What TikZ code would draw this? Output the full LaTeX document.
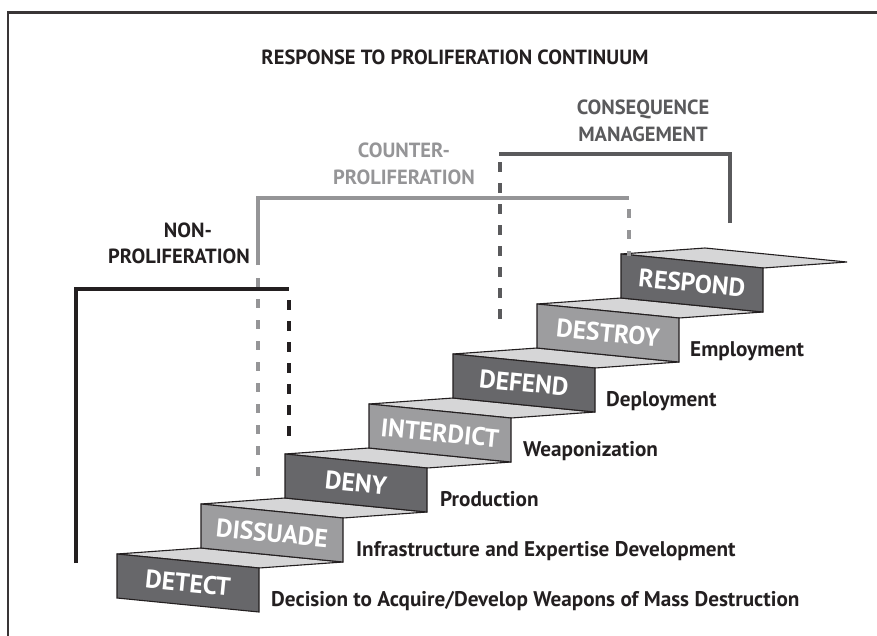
\documentclass[tikz,border=0pt]{standalone}
\usepackage{fontspec}
\setmainfont{PT Sans}
\definecolor{inkc}{HTML}{231F20}
\definecolor{darkc}{HTML}{67676A}
\definecolor{lightc}{HTML}{9D9D9F}
\definecolor{treadc}{HTML}{D6D6D7}
\definecolor{cpc}{HTML}{959597}
\definecolor{cmc}{HTML}{5A5A5C}
\newcommand\stair[5]{%
  \draw[stairline, fill=treadc] (#2,#3) -- ++(84,-6) -- ++(142,14) -- ++(-84,6) -- cycle;
  \draw[stairline, fill=#4] (#2,#3) -- ++(142,14) -- ++(0,44) -- ++(-142,-14) -- cycle;
  \node[risertext] (#1) at (#2+71,#3+29) {#5};
}
\begin{document}
\begin{tikzpicture}[x=1pt,y=-1pt,
  stairline/.style={draw=inkc, line width=1.1pt, line join=miter},
  risertext/.style={text=white, font=\bfseries\fontsize{25.5}{25.5}\selectfont, rotate=-5.63, inner sep=0pt},
  desc/.style={text=inkc, font=\bfseries\fontsize{21.2}{21.5}\selectfont, inner sep=0pt, anchor=base west},
  head/.style={font=\bfseries\fontsize{20.5}{26.5}\selectfont, align=center, inner sep=0pt},
  brk/.style={line width=3.5pt},
  dsh/.style={line width=3.5pt, dash pattern=on 10pt off 11pt}]
\useasboundingbox (0,0) rectangle (877,635);
% frame
\draw[line width=2.2pt, color=inkc!90] (8,640) -- (8,12.5) -- (890,12.5);
% title
\node[head, text=inkc] (title) at (455,57) {RESPONSE TO PROLIFERATION CONTINUUM};
% stairs
\stair{detect}{117}{554}{darkc}{DETECT}
\stair{dissuade}{201}{504}{lightc}{DISSUADE}
\stair{deny}{285}{454}{darkc}{DENY}
\stair{interdict}{369}{404}{lightc}{INTERDICT}
\stair{defend}{453}{354}{darkc}{DEFEND}
\stair{destroy}{537}{304}{lightc}{DESTROY}
\stair{respond}{621}{254}{darkc}{RESPOND}
% descriptions
\node[desc] (d1) at (271,606) {Decision to Acquire/Develop Weapons of Mass Destruction};
\node[desc] (d2) at (356,556) {Infrastructure and Expertise Development};
\node[desc] (d3) at (440,506) {Production};
\node[desc] (d4) at (523,456) {Weaponization};
\node[desc] (d5) at (606,406) {Deployment};
\node[desc] (d6) at (690,356) {Employment};
% non-proliferation bracket
\coordinate (np1) at (76,563);
\coordinate (np2) at (76,289);
\coordinate (np3) at (289,289);
\coordinate (np4) at (289,300);
\coordinate (np5) at (289,442);
\draw[brk, inkc] (np1) -- (np2) -- (np3);
\draw[dsh, inkc] (np4) -- (np5);
\node[head, text=inkc, anchor=base] (np) at (179,263) {PROLIFERATION};
\node[head, text=inkc, anchor=base] (npa) at (188,237) {NON-};
% counter-proliferation bracket
\coordinate (cp1) at (258,265);
\coordinate (cp2) at (258,198);
\coordinate (cp3) at (629,198);
\coordinate (cp4) at (629,209);
\coordinate (cp5) at (629,256);
\coordinate (cp6) at (258,278);
\coordinate (cp7) at (258,480);
\draw[brk, cpc] (cp1) -- (cp2) -- (cp3);
\draw[dsh, cpc, dash pattern=on 9pt off 12pt] (cp4) -- (cp5);
\draw[dsh, cpc, dash pattern=on 9pt off 12pt] (cp6) -- (cp7);
\node[head, text=cpc, anchor=base] (cp) at (404,184) {COUNTER-\\PROLIFERATION};
% consequence management bracket
\coordinate (cm1) at (730,223);
\coordinate (cm2) at (730,154);
\coordinate (cm3) at (499,154);
\coordinate (cm4) at (500,162);
\coordinate (cm5) at (500,325);
\draw[brk, cmc] (cm1) -- (cm2) -- (cm3);
\draw[dsh, cmc] (cm4) -- (cm5);
\node[head, text=cmc, anchor=base] (cm) at (643,141) {CONSEQUENCE\\MANAGEMENT};
\end{tikzpicture}
\end{document}
